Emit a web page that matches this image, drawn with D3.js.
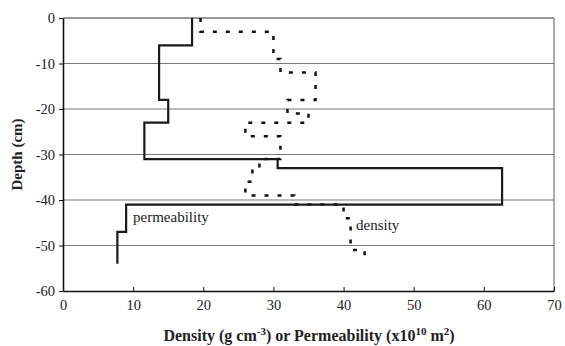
<!DOCTYPE html>
<html>
<head>
<meta charset="utf-8">
<script src="https://d3js.org/d3.v7.min.js"></script>
<style>
  body { margin: 0; background: #fff; }
  svg text { font-family: "Liberation Serif", "Times New Roman", "DejaVu Serif", serif; }
</style>
</head>
<body>
<script>
  // layer boundaries (cm) and the value that holds inside each layer
  var permDepth = [0, -6, -18, -23, -31, -33, -41, -47, -54]
  var permValue = [18.4, 13.7, 15, 11.6, 30.6, 62.6, 9, 7.75]
  var densDepth = [0, -3, -9, -12, -18, -21, -23, -26, -31, -33, -36, -39, -41, -44, -51, -54]
  var densValue = [19.6, 30, 31, 36, 32, 35, 26, 31, 28, 27, 26, 33, 40, 41, 43]
  var xTicks = [0, 10, 20, 30, 40, 50, 60, 70]
  var yTicks = [0, -10, -20, -30, -40, -50, -60]

  var W = 565, H = 346
  var m = { top: 18, right: 11, bottom: 55, left: 63 }
  var serif = '"Liberation Serif", "Times New Roman", "DejaVu Serif", serif'

  var svg = d3.select("body").append("svg").attr("width", W).attr("height", H)
    .attr("font-family", serif)

  var x = d3.scaleLinear().domain([0, 70]).range([m.left, W - m.right])
  var y = d3.scaleLinear().domain([-60, 0]).range([H - m.bottom, m.top])

  // gridlines
  svg.append("g").selectAll("line").data(yTicks.filter(d => d > -60 && d < 0)).enter().append("line")
    .attr("x1", x(0)).attr("x2", x(70))
    .attr("y1", d => y(d)).attr("y2", d => y(d))
    .attr("stroke", "#7a7a7a").attr("stroke-width", 1.2)

  // frame top and right
  svg.append("line").attr("x1", x(0)).attr("x2", x(70)).attr("y1", y(0)).attr("y2", y(0))
    .attr("stroke", "#333").attr("stroke-width", 1.2)
  svg.append("line").attr("x1", x(70)).attr("x2", x(70)).attr("y1", y(0)).attr("y2", y(-60))
    .attr("stroke", "#777").attr("stroke-width", 1.2)

  function steps(depth, value) {
    var pts = []
    value.forEach((v, i) => {
      pts.push([v, depth[i]])
      pts.push([v, depth[i + 1]])
    })
    return pts
  }
  var line = d3.line().x(d => x(d[0])).y(d => y(d[1]))

  svg.append("path").attr("d", line(steps(densDepth, densValue)))
    .attr("fill", "none").attr("stroke", "#111").attr("stroke-width", 2.5)
    .attr("stroke-dasharray", "4,9")

  svg.append("path").attr("d", line(steps(permDepth, permValue)))
    .attr("fill", "none").attr("stroke", "#1a1a1a").attr("stroke-width", 2.2)

  // axes
  var fmt = d => String(d)
  var axX = svg.append("g").attr("transform", `translate(0,${y(-60)})`)
    .call(d3.axisBottom(x).tickValues(xTicks).tickFormat(fmt).tickSize(-4).tickSizeOuter(0))
  var axY = svg.append("g").attr("transform", `translate(${x(0)},0)`)
    .call(d3.axisLeft(y).tickValues(yTicks).tickFormat(fmt).tickSize(4).tickSizeOuter(0))
  ;[axX, axY].forEach(g => {
    g.attr("font-family", serif)
    g.select(".domain").attr("stroke", "#111").attr("stroke-width", 1.6)
    g.selectAll(".tick line").attr("stroke", "#111")
    g.selectAll("text").attr("font-size", 14.5).attr("fill", "#222")
  })
  axX.selectAll("text").attr("y", 9).attr("dy", "0.71em")
  axY.selectAll("text").attr("x", -8)

  // labels
  svg.append("text").attr("x", 133).attr("y", 222).attr("font-size", 15).attr("fill", "#222").text("permeability")
  svg.append("text").attr("x", 356).attr("y", 230).attr("font-size", 15).attr("fill", "#222").text("density")

  svg.append("text")
    .attr("transform", `translate(22,${(y(0) + y(-60)) / 2}) rotate(-90)`)
    .attr("text-anchor", "middle").attr("font-weight", "bold").attr("font-size", 15).attr("fill", "#222")
    .text("Depth (cm)")

  var xt = svg.append("text").attr("x", 309).attr("y", 341)
    .attr("text-anchor", "middle").attr("font-weight", "bold").attr("font-size", 16).attr("fill", "#222")
  xt.append("tspan").text("Density (g cm")
  xt.append("tspan").attr("font-size", 11).attr("dy", -6).text("-3")
  xt.append("tspan").attr("dy", 6).text(") or Permeability (x10")
  xt.append("tspan").attr("font-size", 11).attr("dy", -6).text("10")
  xt.append("tspan").attr("dy", 6).text(" m")
  xt.append("tspan").attr("font-size", 11).attr("dy", -6).text("2")
  xt.append("tspan").attr("dy", 6).text(")")
</script>
</body>
</html>
